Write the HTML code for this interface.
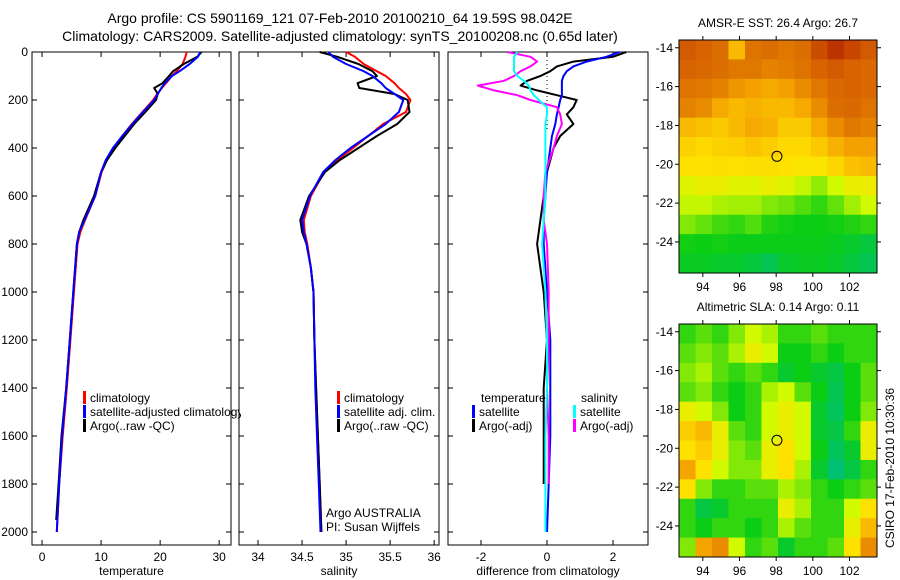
<!DOCTYPE html>
<html><head><meta charset="utf-8"><style>
html,body{margin:0;padding:0;background:#fff;}
svg{display:block;font-family:"Liberation Sans",sans-serif;}
</style></head><body>
<svg id="chart" width="900" height="580" viewBox="0 0 900 580">
<defs><clipPath id="c1"><rect x="0" y="0" width="241" height="580"/></clipPath></defs>
<text x="340" y="23" font-size="14" text-anchor="middle">Argo profile: CS 5901169_121 07-Feb-2010 20100210_64 19.59S 98.042E</text>
<text x="340" y="41" font-size="14" text-anchor="middle">Climatology: CARS2009. Satellite-adjusted climatology: synTS_20100208.nc (0.65d later)</text>
<g id="g"></g>
</svg>
<script>
const depth=[0,20,50,80,100,130,150,175,200,250,300,350,400,450,500,600,700,750,800,900,1000,1200,1400,1600,1800,2000];
const tClim=[24.5,24.3,23.8,22.8,22.0,21.0,20.3,19.5,18.8,17.0,15.2,13.6,12.2,11.0,10.1,9.0,7.3,6.5,6.0,5.7,5.4,4.8,4.2,3.5,2.9,2.5];
const tSat=[26.8,26.4,25.0,23.3,22.0,20.8,20.2,19.6,19.0,17.1,15.3,13.6,12.0,10.8,10.0,9.0,7.2,6.3,5.9,5.6,5.3,4.7,4.1,3.4,2.9,2.5];
const tArgo=[27.0,26.3,24.0,22.2,21.5,20.4,19.0,19.6,19.3,17.5,15.6,14.0,12.4,11.0,10.0,8.8,7.0,6.3,5.9,5.6,5.3,4.7,4.1,3.3,2.8,2.4];
const sClim=[35.0,35.1,35.2,35.35,35.45,35.55,35.6,35.68,35.73,35.68,35.42,35.25,35.08,34.9,34.75,34.6,34.52,34.53,34.56,34.6,34.63,34.64,34.66,34.68,34.70,34.72];
const sSat=[34.8,34.85,35.0,35.2,35.3,35.4,35.45,35.55,35.65,35.6,35.45,35.25,35.05,34.88,34.74,34.59,34.5,34.52,34.55,34.6,34.63,34.64,34.65,34.67,34.69,34.71];
const sArgo=[34.7,34.9,35.14,35.3,35.35,35.13,35.15,35.55,35.7,35.72,35.58,35.35,35.14,34.93,34.76,34.58,34.48,34.5,34.55,34.6,34.63,34.64,34.66,34.68,34.70,34.72];
const dDepth=[0,20,40,60,80,100,120,140,160,180,200,230,260,300,350,400,500,600,700,800,1000,1200,1400,1600,1800,2000];
const dTSat=[2.2,1.8,1.2,0.8,0.6,0.5,0.45,0.45,0.45,0.45,0.4,0.35,0.3,0.25,0.15,0.1,0.0,-0.05,-0.1,-0.1,0.0,0.1,0.1,0.1,0.05,0.0];
const dTArgo=[2.4,2.0,0.8,0.3,0.1,-0.2,-0.6,-0.8,-0.3,0.3,0.9,0.8,0.6,0.8,0.4,0.2,0.0,-0.1,-0.2,-0.3,-0.1,0.0,-0.1,-0.1,-0.1,-0.1];
const dSSat=[-0.9,-1.0,-1.0,-1.0,-1.0,-0.9,-0.7,-0.55,-0.5,-0.4,-0.25,0.0,0.0,-0.05,-0.05,-0.05,-0.05,-0.05,-0.1,-0.15,-0.05,0.0,0.0,-0.05,-0.05,-0.05];
const dSArgo=[-1.2,-0.5,-0.3,-0.5,-0.8,-1.0,-1.3,-2.1,-1.6,-0.9,-0.5,0.3,0.4,0.45,0.3,0.2,-0.05,-0.1,-0.1,0.0,0.05,0.05,0.0,0.05,0.05,0.05];
const depthTicks=[0,200,400,600,800,1000,1200,1400,1600,1800,2000];
const tTicks=[0,10,20,30];
const sTicks=[34,34.5,35,35.5,36];
const dTicks=[-2,0,2];
const lonTicks=[94,96,98,100,102];
const latTicks=[-14,-16,-18,-20,-22,-24];
const sstGrid=[
[0.9,0.88,0.86,0.7,0.85,0.86,0.84,0.86,0.92,0.96,0.93,0.9],
[0.88,0.87,0.86,0.84,0.84,0.82,0.83,0.85,0.88,0.9,0.88,0.87],
[0.85,0.84,0.82,0.78,0.76,0.74,0.76,0.8,0.84,0.87,0.88,0.87],
[0.82,0.8,0.74,0.7,0.72,0.7,0.7,0.74,0.8,0.86,0.87,0.85],
[0.7,0.68,0.66,0.7,0.74,0.72,0.66,0.66,0.74,0.8,0.84,0.82],
[0.64,0.62,0.64,0.65,0.67,0.65,0.62,0.62,0.66,0.72,0.76,0.76],
[0.6,0.6,0.61,0.6,0.61,0.61,0.6,0.59,0.59,0.63,0.68,0.7],
[0.53,0.55,0.55,0.53,0.53,0.55,0.53,0.48,0.42,0.5,0.55,0.56],
[0.48,0.48,0.45,0.44,0.44,0.4,0.38,0.34,0.3,0.36,0.44,0.5],
[0.4,0.36,0.32,0.3,0.34,0.28,0.26,0.25,0.25,0.26,0.28,0.3],
[0.26,0.25,0.26,0.24,0.24,0.24,0.24,0.24,0.24,0.22,0.2,0.16],
[0.22,0.22,0.2,0.2,0.16,0.12,0.2,0.22,0.22,0.2,0.16,0.12]];
const slaGrid=[
[0.3,0.35,0.3,0.4,0.5,0.45,0.3,0.3,0.35,0.3,0.3,0.3],
[0.35,0.4,0.35,0.45,0.55,0.5,0.25,0.25,0.3,0.25,0.3,0.3],
[0.4,0.45,0.35,0.3,0.35,0.3,0.2,0.25,0.2,0.15,0.25,0.35],
[0.35,0.4,0.3,0.25,0.3,0.45,0.5,0.35,0.25,0.12,0.25,0.35],
[0.55,0.5,0.4,0.25,0.3,0.5,0.55,0.5,0.2,0.1,0.25,0.4],
[0.65,0.7,0.55,0.35,0.3,0.5,0.55,0.5,0.2,0.15,0.3,0.55],
[0.6,0.65,0.55,0.4,0.35,0.55,0.6,0.5,0.25,0.1,0.2,0.55],
[0.75,0.6,0.5,0.4,0.4,0.55,0.6,0.45,0.2,0.05,0.15,0.3],
[0.6,0.4,0.3,0.3,0.35,0.35,0.45,0.4,0.3,0.25,0.3,0.35],
[0.3,0.15,0.2,0.3,0.3,0.3,0.55,0.45,0.3,0.3,0.5,0.6],
[0.3,0.25,0.3,0.3,0.25,0.3,0.45,0.35,0.3,0.3,0.55,0.7],
[0.4,0.75,0.8,0.5,0.3,0.35,0.2,0.3,0.3,0.35,0.6,0.8]];

const NS='http://www.w3.org/2000/svg';
const G=document.getElementById('g');
function mk(tag,attrs,parent){const e=document.createElementNS(NS,tag);for(const k in attrs)e.setAttribute(k,attrs[k]);(parent||G).appendChild(e);return e;}
const Y0=52,Y1=545;
const yD=d=>Y0+d*0.24;
function panel(x0,x1,xmin,xmax,ticks,label,name,showY){
  const sx=v=>x0+(v-xmin)/(xmax-xmin)*(x1-x0);
  const r=mk('rect',{x:x0,y:Y0,width:x1-x0,height:Y1-Y0,fill:'none',stroke:'#000','stroke-width':1});
  
  
  ticks.forEach(t=>{const x=sx(t);
    mk('line',{x1:x,x2:x,y1:Y1,y2:Y1-5,stroke:'#000'});mk('line',{x1:x,x2:x,y1:Y0,y2:Y0+5,stroke:'#000'});
    const tx=mk('text',{x:x,y:Y1+16,'font-size':12,'text-anchor':'middle'});tx.textContent=String(t);
    
    });
  depthTicks.forEach(d=>{const y=yD(d);
    mk('line',{x1:x0,x2:x0+5,y1:y,y2:y,stroke:'#000'});mk('line',{x1:x1,x2:x1-5,y1:y,y2:y,stroke:'#000'});
    if(showY){const tx=mk('text',{x:x0-4,y:y+4,'font-size':12,'text-anchor':'end'});tx.textContent=String(d);
      
      }});
  const xl=mk('text',{x:(x0+x1)/2,y:Y1+30,'font-size':12,'text-anchor':'middle'});xl.textContent=label;
  
  
  return sx;
}
function line(sx,ds,vals,col,w,name){
  const p=mk('polyline',{points:vals.map((v,i)=>sx(v).toFixed(1)+','+yD(ds[i]).toFixed(1)).join(' '),fill:'none',stroke:col,'stroke-width':w,'stroke-linejoin':'round'});
  
  
}
function legend(x,y,col,txt,name,clip){
  const g=mk('g',clip?{'clip-path':'url(#c1)'}:{});
  mk('rect',{x:x,y:y-11,width:3,height:13,fill:col},g);
  const t=mk('text',{x:x+7,y:y,'font-size':12},g);t.textContent=txt;
  
  
}
const sT=panel(32,231,-1.7,32.0,tTicks,'temperature','temperature-panel',true);
line(sT,depth,tClim,'#f00',2,'temp-climatology-line');
line(sT,depth.slice(0,25).concat([1950]),tArgo,'#000',2,'temp-argo-line');
line(sT,depth,tSat,'#00f',2,'temp-satellite-line');
legend(83,402,'#f00','climatology','legend-climatology');
legend(83,416,'#00f','satellite-adjusted climatology','legend-satellite-adjusted',true);
legend(83,430,'#000','Argo(..raw -QC)','legend-argo');
const sS=panel(239,439,33.784,36.055,sTicks,'salinity','salinity-panel',false);
line(sS,depth,sClim,'#f00',2,'sal-climatology-line');
line(sS,depth,sArgo,'#000',2,'sal-argo-line');
line(sS,depth,sSat,'#00f',2,'sal-satellite-line');
legend(337,402,'#f00','climatology','legend-sal-climatology');
legend(337,416,'#00f','satellite adj. clim.','legend-sal-satellite');
legend(337,430,'#000','Argo(..raw -QC)','legend-sal-argo');
let t=mk('text',{x:326,y:517,'font-size':12});t.textContent='Argo AUSTRALIA';


t=mk('text',{x:326,y:531,'font-size':12});t.textContent='PI: Susan Wijffels';


const sD=panel(448,648,-3.0,3.06,dTicks,'difference from climatology','difference-panel',false);
mk('line',{x1:sD(0),x2:sD(0),y1:Y0,y2:yD(330),stroke:'#000','stroke-dasharray':'1,3'});
line(sD,dDepth,dTArgo.slice(0,25),'#000',2,'diff-temp-argo-line');
line(sD,dDepth,dTSat,'#00f',2,'diff-temp-satellite-line');
line(sD,dDepth,dSArgo.slice(0,25),'#f0f',2,'diff-sal-argo-line');
line(sD,dDepth,dSSat,'#0ff',2,'diff-sal-satellite-line');
t=mk('text',{x:481,y:402,'font-size':12});t.textContent='temperature';


t=mk('text',{x:581,y:402,'font-size':12});t.textContent='salinity';


legend(472,416,'#00f','satellite','legend-diff-temp-satellite');
legend(472,430,'#000','Argo(-adj)','legend-diff-temp-argo');
legend(573,416,'#0ff','satellite','legend-diff-sal-satellite');
legend(573,430,'#f0f','Argo(-adj)','legend-diff-sal-argo');
const stops=[[0,[0,190,140]],[0.25,[10,205,20]],[0.5,[210,250,0]],[0.6,[255,225,0]],[0.75,[245,165,0]],[0.9,[210,90,0]],[1,[175,25,0]]];
function cmap(v){for(let i=1;i<stops.length;i++){if(v<=stops[i][0]){const a=stops[i-1],b=stops[i],f=(v-a[0])/(b[0]-a[0]);
  return 'rgb('+a[1].map((c,k)=>Math.round(c+(b[1][k]-c)*f)).join(',')+')';}}return 'rgb(175,25,0)';}
function map(y0,grid,title,name){
  const x0=679,x1=877,y1=y0+233,lon0=92.7,lon1=103.5,lat0=-13.6,lat1=-25.6;
  const sx=v=>x0+(v-lon0)/(lon1-lon0)*(x1-x0), sy=v=>y0+(v-lat0)/(lat1-lat0)*(y1-y0);
  const rows=grid.length,cols=grid[0].length,cw=(x1-x0)/cols,ch=(y1-y0)/rows;
  grid.forEach((row,r)=>row.forEach((v,c)=>{
    const cell=mk('rect',{x:(x0+c*cw).toFixed(2),y:(y0+r*ch).toFixed(2),width:(cw+0.5).toFixed(2),height:(ch+0.5).toFixed(2),fill:cmap(v)});
    
    }));
  const fr=mk('rect',{x:x0,y:y0,width:x1-x0,height:y1-y0,fill:'none',stroke:'#000'});
  
  
  lonTicks.forEach(l=>{const x=sx(l);mk('line',{x1:x,x2:x,y1:y1,y2:y1+4,stroke:'#000'});mk('line',{x1:x,x2:x,y1:y0,y2:y0-4,stroke:'#000'});
    const tx=mk('text',{x:x,y:y1+18,'font-size':12,'text-anchor':'middle'});tx.textContent=String(l);
    
    });
  latTicks.forEach(l=>{const y=sy(l);mk('line',{x1:x0,x2:x0-4,y1:y,y2:y,stroke:'#000'});mk('line',{x1:x1,x2:x1+4,y1:y,y2:y,stroke:'#000'});
    const tx=mk('text',{x:x0-6,y:y+4,'font-size':12,'text-anchor':'end'});tx.textContent=String(l);
    
    });
  const c=mk('circle',{cx:sx(98.042),cy:sy(-19.59),r:5,fill:'none',stroke:'#000','stroke-width':1});
  
  
  const tt=mk('text',{x:778,y:y0-13,'font-size':12,'text-anchor':'middle'});tt.textContent=title;
  
  
}
map(40,sstGrid,'AMSR-E SST: 26.4 Argo: 26.7','sst-map');
map(324,slaGrid,'Altimetric SLA: 0.14 Argo: 0.11','sla-map');
t=mk('text',{x:0,y:0,'font-size':12,'text-anchor':'middle',transform:'translate(894,468) rotate(-90)'});t.textContent='CSIRO 17-Feb-2010 10:30:36';


</script>
</body></html>
